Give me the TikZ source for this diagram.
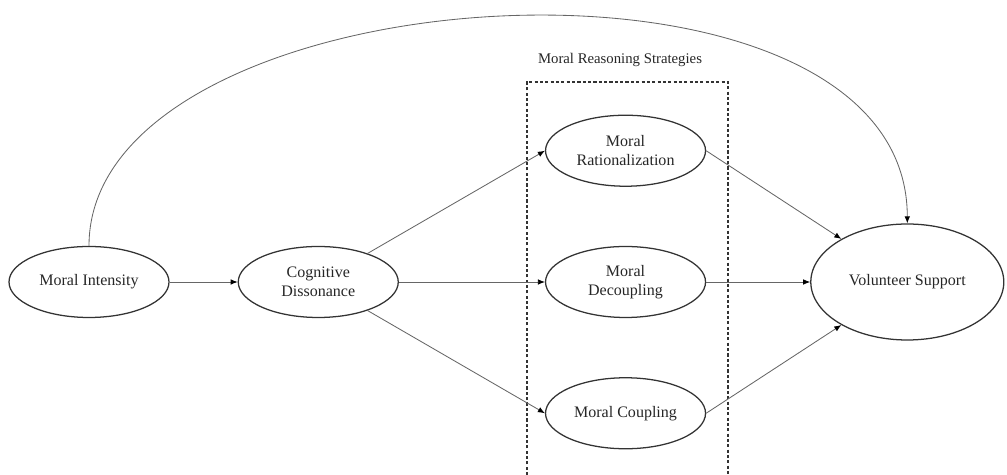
\documentclass[tikz,border=0pt]{standalone}
\usepackage{fontspec}
\setmainfont{Liberation Serif}
\usetikzlibrary{positioning,shapes.geometric,arrows.meta}

\begin{document}
\begin{tikzpicture}[>={Latex[length=5pt,width=4pt,black]},node distance=1.7cm,
                    main node/.style={ellipse,draw=black!80,line width=0.9pt,inner sep=0pt,
                      minimum width=4cm,minimum height=1.775cm,align=center,
                      font=\fontsize{11.4}{13.5}\selectfont,text=black!85},
                    link/.style={->,draw=black!60,line width=0.6pt}]
  \useasboundingbox (0,0) rectangle (25.175,11.875);

  \node[main node] (mi) at (2.225,4.825) {Moral Intensity};
  \node[main node] (cd) [right=1.7cm of mi] {Cognitive\\Dissonance};
  \node[main node] (md) [right=3.65cm of cd] {Moral\\Decoupling};
  \node[main node] (mr) [above=1.475cm of md] {Moral\\Rationalization};
  \node[main node] (mc) [below=1.475cm of md] {Moral Coupling};
  \node[main node,minimum width=4.825cm,minimum height=2.9cm] (vs) [right=2.6cm of md] {Volunteer Support};

  % strategies box, open at the bottom
  \draw[black!80,line width=0.8pt,dash pattern=on 2.2pt off 1.6pt]
    (13.175,0) |- (18.2,9.825) -- (18.2,0);
  \node[font=\fontsize{10.5}{12}\selectfont,text=black!85] (mrs) at (15.5,10.375) {Moral Reasoning Strategies};

  \path
    (mi) edge[link] (cd)
    (cd) edge[link] (mr.west)
    (cd) edge[link] (md)
    (cd) edge[link] (mc.west)
    (mr.east) edge[link] (vs)
    (md) edge[link] (vs)
    (mc.east) edge[link] (vs);

  \draw[link] (mi.north) .. controls +(0,6.88) and +(0,7.63) .. (vs.north);

\end{tikzpicture}
\end{document}
